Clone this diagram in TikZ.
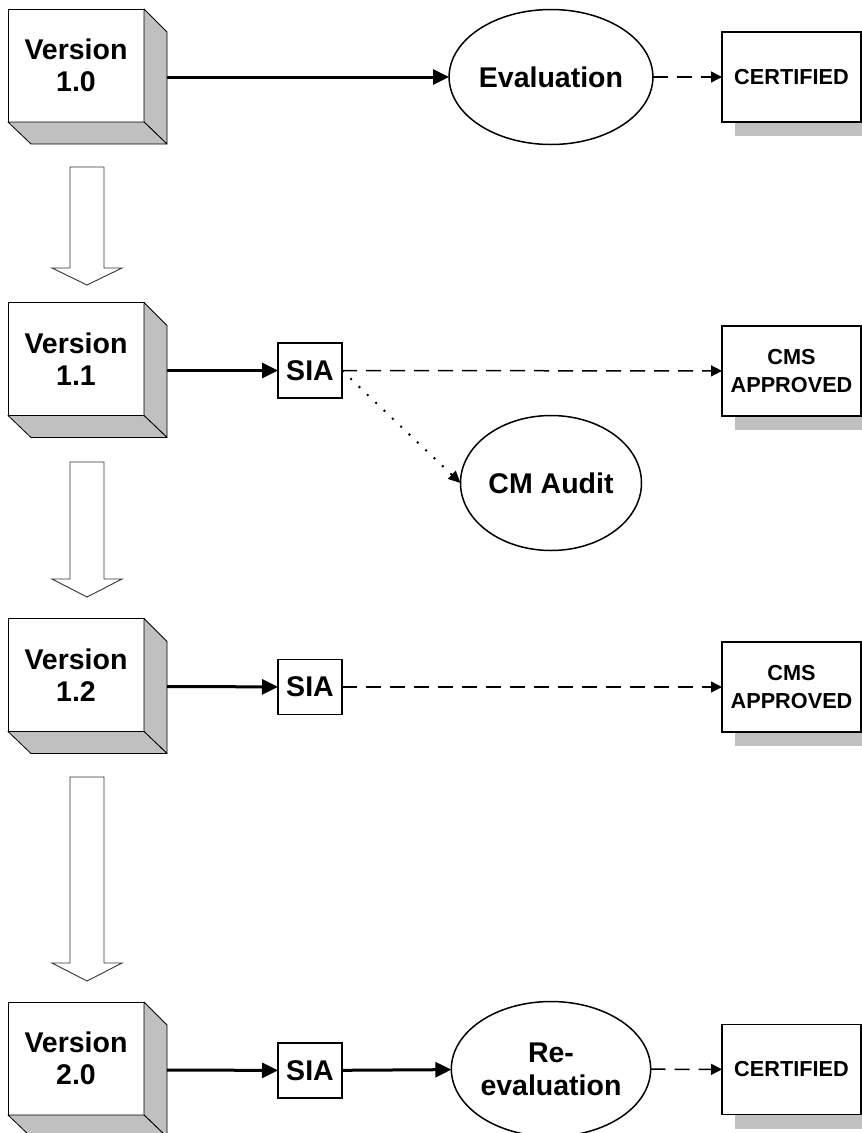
\documentclass[tikz,border=0pt]{standalone}
\usepackage{fontspec}
\setmainfont{Liberation Sans}
\usetikzlibrary{shapes.geometric,arrows.meta,calc,shadows}
\definecolor{shade}{HTML}{C0C0C0}
\begin{document}
\begin{tikzpicture}[x=1pt,y=-1pt,
 face/.style={draw,line width=0.8pt,fill=white,minimum width=136pt,minimum height=113pt,inner sep=0pt,outer sep=0pt,align=center,font=\fontsize{28.5}{32}\selectfont\bfseries},
 side/.style={fill=shade,draw,line width=0.8pt,line join=round},
 sia/.style={draw,line width=1.8pt,fill=white,minimum width=64pt,minimum height=55pt,inner sep=0pt,outer sep=0pt,font=\fontsize{28.5}{32}\selectfont\bfseries},
 oval/.style={ellipse,draw,line width=1.5pt,fill=white,minimum width=181pt,minimum height=135pt,inner sep=0pt,outer sep=0pt,align=center,font=\fontsize{28.5}{33}\selectfont\bfseries},
 result/.style={draw,line width=1.8pt,fill=white,minimum width=139pt,minimum height=90pt,inner sep=0pt,outer sep=0pt,align=center,font=\fontsize{21.7}{28}\selectfont\bfseries,
   general shadow={fill=shade,draw=none,shadow xshift=13pt,shadow yshift=-14pt}},
 flow/.style={line width=3pt,-{Triangle[length=16pt,width=15pt]}},
 dashflow/.style={line width=1.5pt,dash pattern=on 15pt off 9pt,-{Triangle[length=11pt,width=11pt]}},
 dotflow/.style={line width=2pt,dash pattern=on 2pt off 9.5pt,-{Triangle[length=12pt,width=11pt]}},
 hollow/.style={draw=black!80,line width=0.9pt,fill=white,line join=miter}
]
\useasboundingbox (0,0) rectangle (862,1133);
\clip (0,0) rectangle (862,1133);

% version cubes (front faces)
\node[face] (v10) at (76,65.5) {Version\\1.0};
\node[face] (v11) at (76,359) {Version\\1.1};
\node[face] (v12) at (76,675) {Version\\1.2};
\node[face] (v20) at (76,1058.5) {Version\\2.0};
\foreach \n in {v10,v11,v12,v20}{
  \draw[side] (\n.north east) -- ++(23,23) -- ($(\n.south east)+(23,22)$) -- (\n.south east) -- cycle;
  \draw[side] (\n.south west) -- (\n.south east) -- ++(23,22) -- ($(\n.south west)+(23,22)$) -- cycle;
  \coordinate (\n o) at ($(\n.east)+(23,11.5)$);
}

% hollow block arrows between versions
\foreach \t/\b/\p in {167/268/285, 462/579/597, 777/963/981}{
  \draw[hollow] (70,\t) -- (104,\t) -- (104,\b) -- (122,\b) -- (87,\p) -- (52,\b) -- (70,\b) -- cycle;
}

% SIA boxes
\node[sia] (sia1) at (310,370.5) {SIA};
\node[sia] (sia2) at (310,687) {SIA};
\node[sia] (sia3) at (310,1070.5) {SIA};

% ellipses
\node[oval] (eval) at (551,77) {Evaluation};
\node[oval] (audit) at (551,483) {CM Audit};
\node[oval] (reeval) at (551,1069) {Re-\\evaluation};

% result boxes
\node[result] (cert1) at (791.5,77) {CERTIFIED};
\node[result] (cms1) at (791.5,371) {CMS\\APPROVED};
\node[result] (cms2) at (791.5,687) {CMS\\APPROVED};
\node[result] (cert2) at (791.5,1069.5) {CERTIFIED};

% connectors
\draw[flow] (v10o) -- (eval);
\draw[flow] (v11o) -- (sia1);
\draw[flow] (v12o) -- (sia2);
\draw[flow] (v20o) -- (sia3);
\draw[flow] (sia3) -- (reeval);
\draw[dashflow] (eval) -- (cert1);
\draw[dashflow] (sia1) -- (cms1);
\draw[dashflow] (sia2) -- (cms2);
\draw[dashflow] (reeval) -- (cert2);
\draw[dotflow] (sia1.east) -- (audit.west);
\end{tikzpicture}
\end{document}
